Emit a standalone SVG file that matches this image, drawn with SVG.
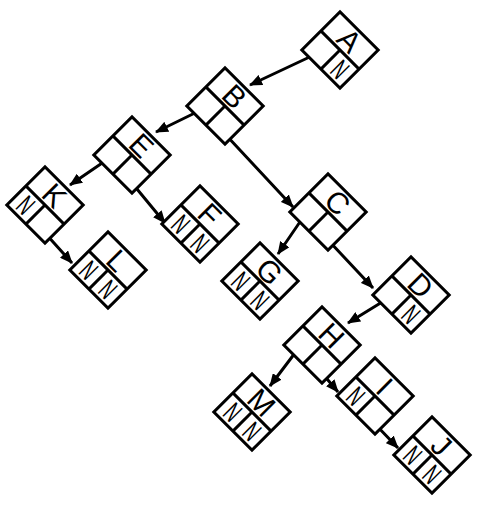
<svg xmlns="http://www.w3.org/2000/svg" width="502" height="509" viewBox="0 0 502 509">
<style>
.bx{fill:#fff;stroke:#000;stroke-width:3}
.dv{fill:none;stroke:#000;stroke-width:3}
.lbl{font-family:"Liberation Sans",Arial,sans-serif;font-size:30px;text-anchor:middle;fill:#000}
.nul{font-family:"Liberation Sans",Arial,sans-serif;font-size:28px;text-anchor:middle;fill:#000}
.c path{fill:none;stroke:#000;stroke-width:3;stroke-linejoin:round}
</style>
<defs>
<marker id="ah" markerUnits="userSpaceOnUse" markerWidth="13" markerHeight="11" refX="12" refY="5.5" orient="auto">
<path d="M0,0 L13,5.5 L0,11 z" fill="#000"/>
</marker>
<g id="box">
<rect class="bx" x="-27" y="-27" width="54" height="54"/>
<line class="dv" x1="-27" y1="0" x2="27" y2="0"/>
<line class="dv" x1="0" y1="0" x2="0" y2="27"/>
</g>
</defs>
<rect width="502" height="509" fill="#fff"/>
<g id="connectors" class="c">
<path d="M316,45 L316,54 L250,85" marker-end="url(#ah)"/>
<path d="M201,101 L201,110 L156,132" marker-end="url(#ah)"/>
<path d="M225,125 L225,134 L293,207" marker-end="url(#ah)"/>
<path d="M108,150 L108,159 L70,185" marker-end="url(#ah)"/>
<path d="M132,174 L132,183 L165,223" marker-end="url(#ah)"/>
<path d="M45,224 L45,233 L72,263" marker-end="url(#ah)"/>
<path d="M304,207 L304,216 L278,254" marker-end="url(#ah)"/>
<path d="M328,231 L328,240 L373,288" marker-end="url(#ah)"/>
<path d="M387,290 L387,299 L348,323" marker-end="url(#ah)"/>
<path d="M298,340 L298,349 L270,386" marker-end="url(#ah)"/>
<path d="M322,364 L322,373 L338,392" marker-end="url(#ah)"/>
<path d="M375,415 L375,424 L398,448" marker-end="url(#ah)"/>
</g>
<g id="node-A" transform="translate(340,50) rotate(45)"><use href="#box"/><text class="lbl" x="0" y="-3">A</text><text class="nul" transform="translate(13.5,23.5) scale(0.6,1)">N</text></g>
<g id="node-B" transform="translate(225,106) rotate(45)"><use href="#box"/><text class="lbl" x="0" y="-3">B</text></g>
<g id="node-E" transform="translate(132,155) rotate(45)"><use href="#box"/><text class="lbl" x="0" y="-3">E</text></g>
<g id="node-K" transform="translate(45,205) rotate(45)"><use href="#box"/><text class="lbl" x="0" y="-3">K</text><text class="nul" transform="translate(-13.5,23.5) scale(0.6,1)">N</text></g>
<g id="node-L" transform="translate(108,270) rotate(45)"><use href="#box"/><text class="lbl" x="0" y="-3">L</text><text class="nul" transform="translate(-13.5,23.5) scale(0.6,1)">N</text><text class="nul" transform="translate(13.5,23.5) scale(0.6,1)">N</text></g>
<g id="node-F" transform="translate(200,224) rotate(45)"><use href="#box"/><text class="lbl" x="0" y="-3">F</text><text class="nul" transform="translate(-13.5,23.5) scale(0.6,1)">N</text><text class="nul" transform="translate(13.5,23.5) scale(0.6,1)">N</text></g>
<g id="node-C" transform="translate(328,212) rotate(45)"><use href="#box"/><text class="lbl" x="0" y="-3">C</text></g>
<g id="node-G" transform="translate(260,281) rotate(45)"><use href="#box"/><text class="lbl" x="0" y="-3">G</text><text class="nul" transform="translate(-13.5,23.5) scale(0.6,1)">N</text><text class="nul" transform="translate(13.5,23.5) scale(0.6,1)">N</text></g>
<g id="node-D" transform="translate(411,295) rotate(45)"><use href="#box"/><text class="lbl" x="0" y="-3">D</text><text class="nul" transform="translate(13.5,23.5) scale(0.6,1)">N</text></g>
<g id="node-H" transform="translate(322,345) rotate(45)"><use href="#box"/><text class="lbl" x="0" y="-3">H</text></g>
<g id="node-M" transform="translate(252,412) rotate(45)"><use href="#box"/><text class="lbl" x="0" y="-3">M</text><text class="nul" transform="translate(-13.5,23.5) scale(0.6,1)">N</text><text class="nul" transform="translate(13.5,23.5) scale(0.6,1)">N</text></g>
<g id="node-I" transform="translate(375,396) rotate(45)"><use href="#box"/><text class="lbl" x="0" y="-3">I</text><text class="nul" transform="translate(-13.5,23.5) scale(0.6,1)">N</text></g>
<g id="node-J" transform="translate(432,455) rotate(45)"><use href="#box"/><text class="lbl" x="0" y="-3">J</text><text class="nul" transform="translate(-13.5,23.5) scale(0.6,1)">N</text><text class="nul" transform="translate(13.5,23.5) scale(0.6,1)">N</text></g>
</svg>
